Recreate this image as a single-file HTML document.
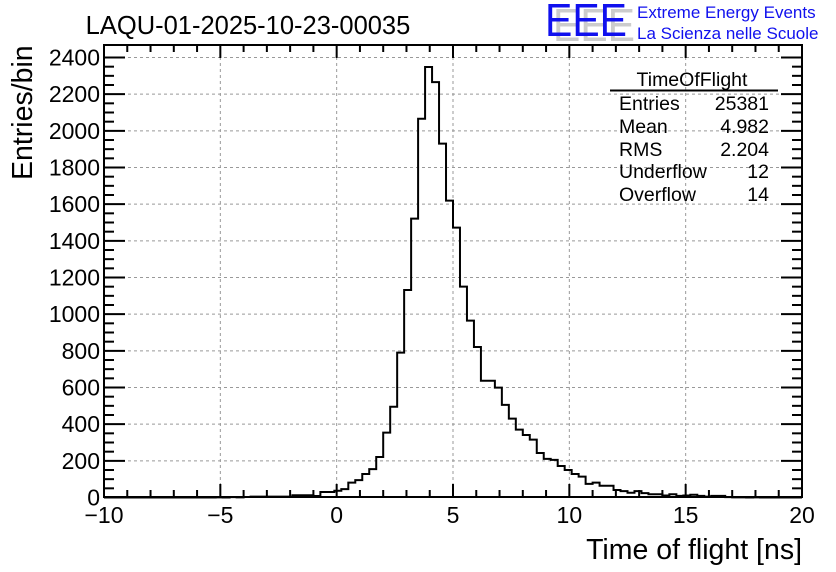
<!DOCTYPE html>
<html><head><meta charset="utf-8"><style>
html,body{margin:0;padding:0;background:#fff;}
svg{display:block;font-family:"Liberation Sans",sans-serif;}
</style></head><body>
<svg id="c" width="836" height="572" viewBox="0 0 836 572">
<rect width="836" height="572" fill="#fff"/>
<g id="grid"></g>
<path id="hist" fill="none" stroke="#000" stroke-width="2"/>
<rect x="104" y="45" width="698" height="452" fill="none" stroke="#000" stroke-width="2"/>
<g id="axes"></g>
<text x="248" y="34" font-size="25.5" text-anchor="middle">LAQU-01-2025-10-23-00035</text>
<text x="802" y="559" font-size="28.5" text-anchor="end">Time of flight [ns]</text>
<text transform="translate(32,180) rotate(-90)" font-size="28.5" text-anchor="start">Entries/bin</text>
<g>
<text x="553" y="41" font-size="46" fill="#ccc" textLength="82" lengthAdjust="spacingAndGlyphs">EEE</text>
<text x="545" y="36" font-size="46" fill="#1010ee" textLength="82" lengthAdjust="spacingAndGlyphs">EEE</text>
<text x="637" y="18" font-size="17" fill="#1010ee">Extreme Energy Events</text>
<text x="637" y="39" font-size="17" fill="#1010ee">La Scienza nelle Scuole</text>
</g>
<g font-size="19.5">
<text x="692" y="86" text-anchor="middle">TimeOfFlight</text>
<line x1="610" y1="90.5" x2="778" y2="90.5" stroke="#000" stroke-width="2"/>
<text x="619" y="110">Entries</text><text x="769" y="110" text-anchor="end">25381</text>
<text x="619" y="133">Mean</text><text x="769" y="133" text-anchor="end">4.982</text>
<text x="619" y="156">RMS</text><text x="769" y="156" text-anchor="end">2.204</text>
<text x="619" y="178">Underflow</text><text x="769" y="178" text-anchor="end">12</text>
<text x="619" y="201">Overflow</text><text x="769" y="201" text-anchor="end">14</text>
</g>
</svg>
<script>
const binStart = -10;
const binWidth = 0.3;
const counts = [
0,0,0,0,0,0,0,0,0,0,
0,0,0,0,0,0,1,0,2,1,
3,5,5,5,5,5,5,12,12,12,
8,30,30,37,46,81,95,128,155,221,
354,495,790,1132,1521,2066,2348,2266,1930,1619,
1472,1150,965,821,637,637,599,505,430,370,
341,316,243,211,205,172,150,128,114,74,
81,64,64,41,35,26,35,24,18,18,
11,18,9,11,15,9,5,9,9,2,
1,1,0,1,0,0,0,0,0,0];
const xTicks = [-10,-5,0,5,10,15,20];
const yTicks = [0,200,400,600,800,1000,1200,1400,1600,1800,2000,2200,2400];
const X0=104,X1=802,Y0=497.5,Y1=57.5;
const sx = v => X0 + (v+10)/30*(X1-X0);
const sy = v => Y0 - v/2400*(Y0-Y1);
const NS="http://www.w3.org/2000/svg";
const grid=document.getElementById('grid'), axes=document.getElementById('axes');
function mk(tag,attrs,parent){const e=document.createElementNS(NS,tag);for(const k in attrs)e.setAttribute(k,attrs[k]);parent.appendChild(e);return e;}
xTicks.forEach(t=>{
  const x=sx(t);
  if(t>-10&&t<20){const l=mk('line',{x1:x,x2:x,y1:45,y2:497,stroke:'#999','stroke-dasharray':'3,3','stroke-width':1},grid);
  
  }
  const tk=mk('line',{x1:x,x2:x,y1:497,y2:484,stroke:'#000','stroke-width':2},axes);
  
  
  const tk2=mk('line',{x1:x,x2:x,y1:45,y2:58,stroke:'#000','stroke-width':2},axes);
  
  
  const tx=mk('text',{x:x,y:523,'font-size':23,'text-anchor':'middle'},axes);
  tx.textContent=(t<0?'\u2212'+(-t):t);
  
  
});
for(let v=-9;v<20;v++){ if(v%5===0)continue; const x=sx(v);
  mk('line',{x1:x,x2:x,y1:497,y2:490,stroke:'#000','stroke-width':2},axes);
  mk('line',{x1:x,x2:x,y1:45,y2:52,stroke:'#000','stroke-width':2},axes);}
yTicks.forEach(t=>{
  const y=sy(t);
  if(t>0){const l=mk('line',{x1:104,x2:802,y1:y,y2:y,stroke:'#999','stroke-dasharray':'3,3','stroke-width':1},grid);
  
  }
  mk('line',{x1:104,x2:125,y1:y,y2:y,stroke:'#000','stroke-width':2},axes);
  mk('line',{x1:781,x2:802,y1:y,y2:y,stroke:'#000','stroke-width':2},axes);
  const tx=mk('text',{x:100,y:y+8,'font-size':23,'text-anchor':'end'},axes);
  tx.textContent=t;
  
  
});
for(let v=50;v<2400;v+=50){ if(v%200===0)continue; const y=sy(v);
  mk('line',{x1:104,x2:114,y1:y,y2:y,stroke:'#000','stroke-width':2},axes);
  mk('line',{x1:792,x2:802,y1:y,y2:y,stroke:'#000','stroke-width':2},axes);}
let d='M'+sx(binStart)+','+sy(counts[0]);
counts.forEach((c,i)=>{const a=binStart+i*binWidth,b=a+binWidth;
  if(i>0)d+=' L'+sx(a)+','+sy(c);
  d+=' L'+sx(b)+','+sy(c);});
document.getElementById('hist').setAttribute('d',d);
</script>
</body></html>
